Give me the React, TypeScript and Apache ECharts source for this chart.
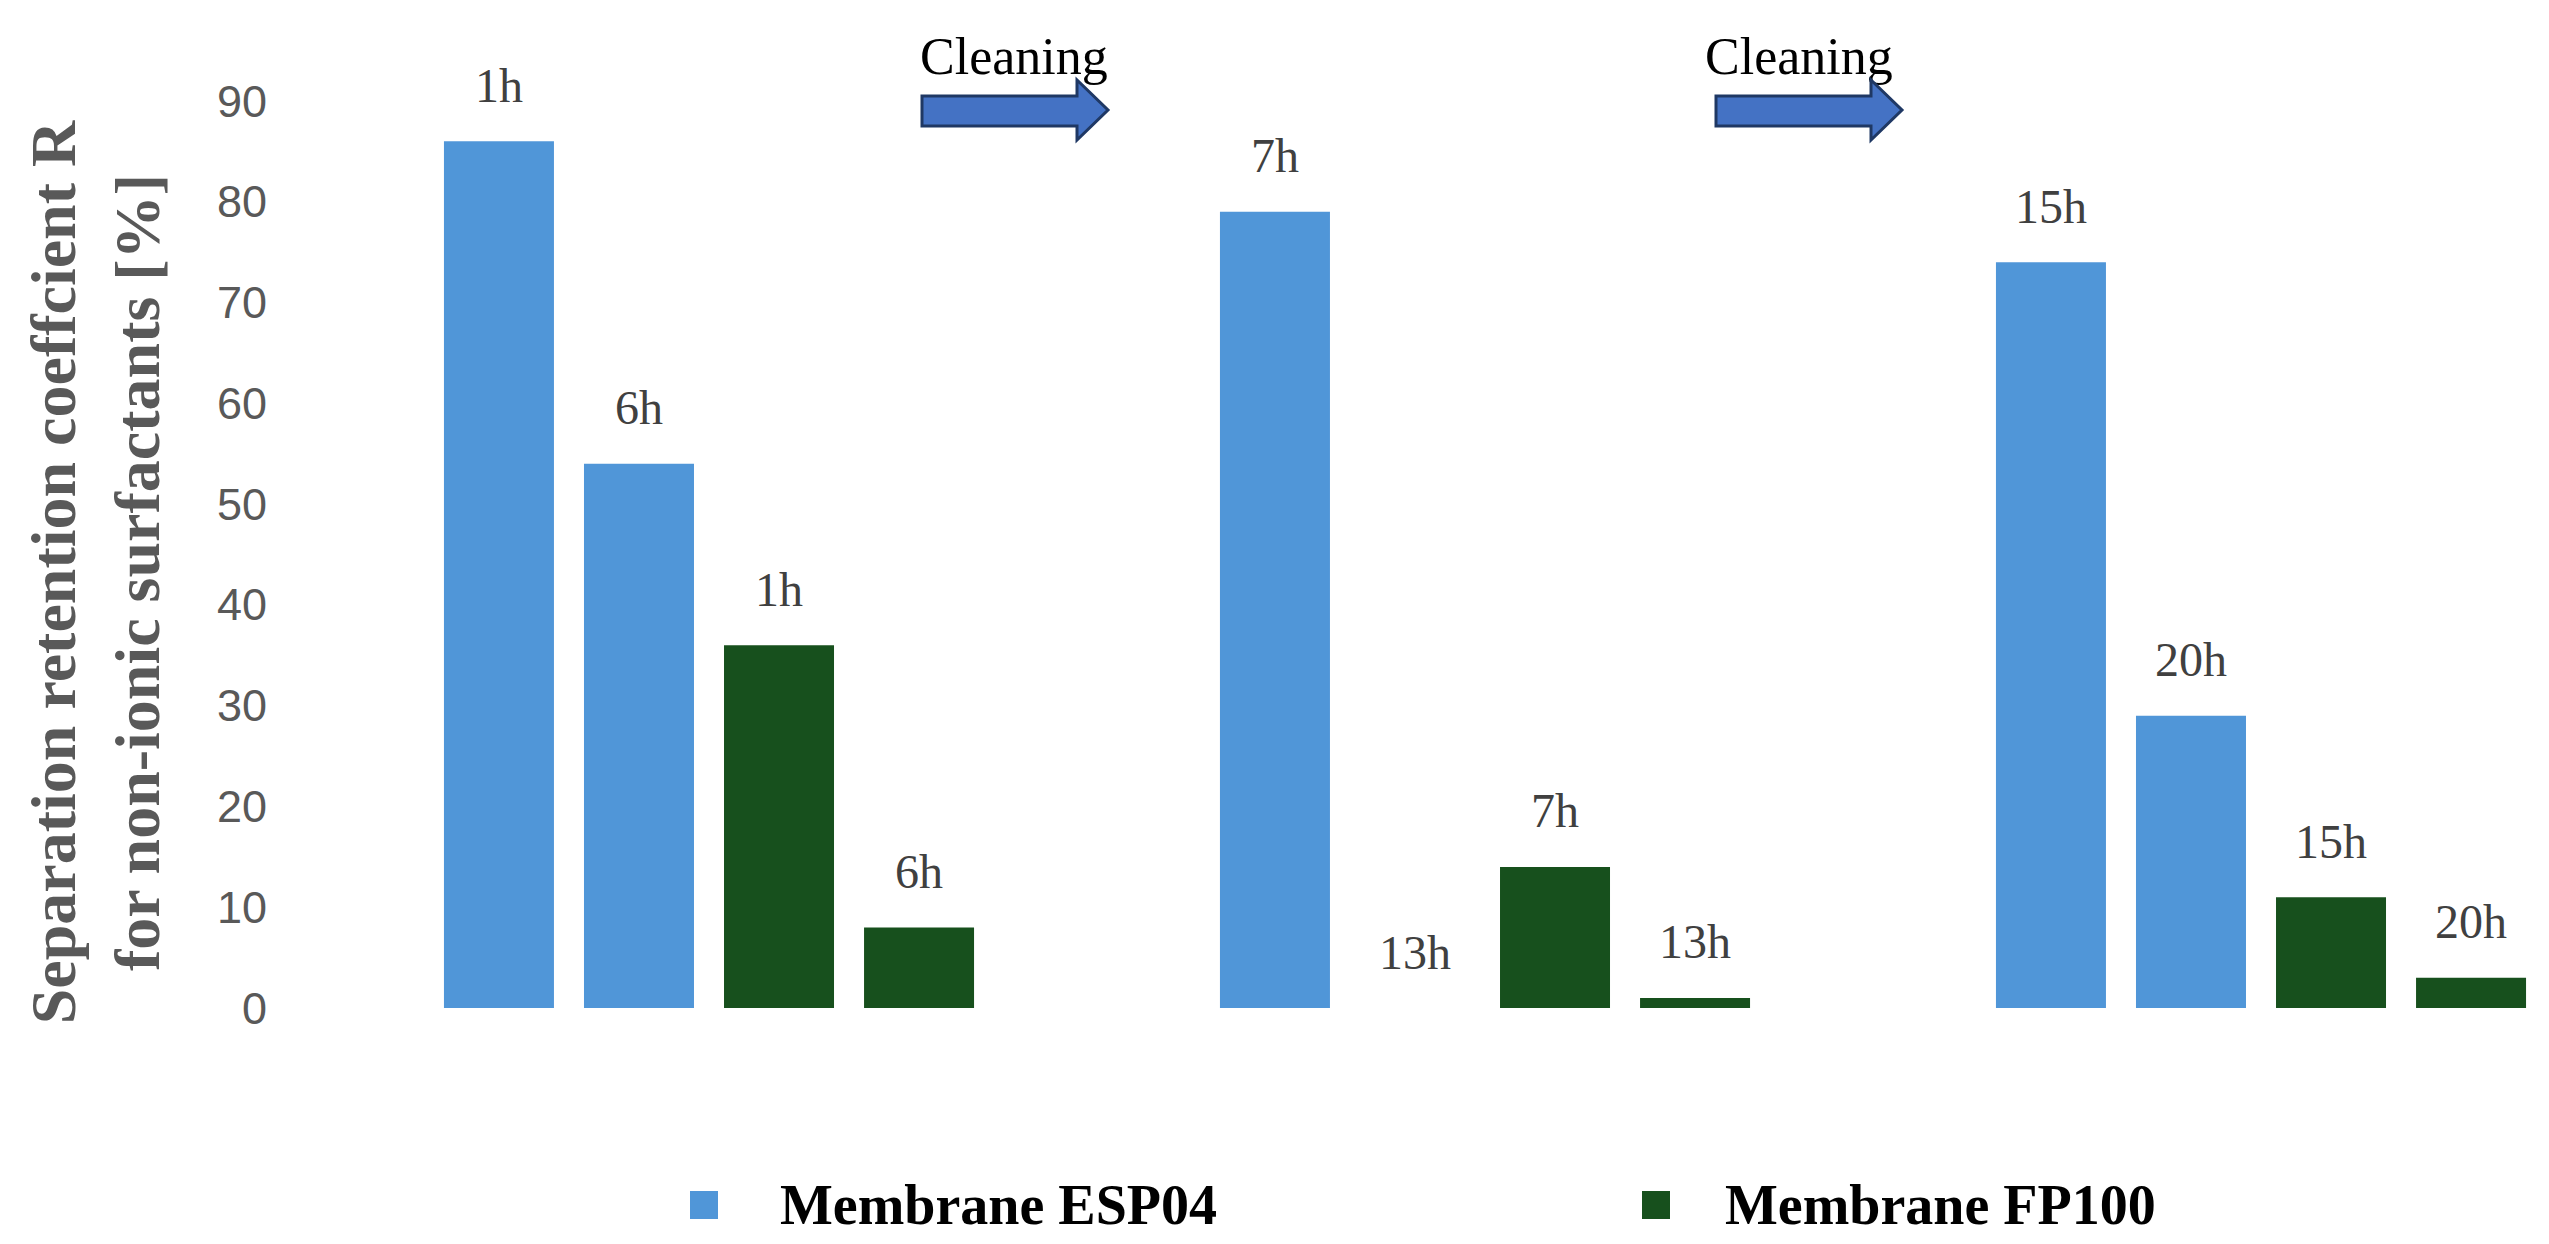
import React, { useEffect, useRef } from "react";
import * as echarts from "echarts";

const categories = ["Run 1", "Run 2", "Run 3"];
const espFirst = [86, 79, 74];
const espSecond = [54, 0, 29];
const fpFirst = [36, 14, 11];
const fpSecond = [8, 1, 3];
const labelsFirst = ["1h", "7h", "15h"];
const labelsSecond = ["6h", "13h", "20h"];
const yTicks = { min: 0, max: 90, interval: 10 };
const legendNames = ["Membrane ESP04", "Membrane FP100"];
const annotationText = "Cleaning";

const BLUE = "#5096d8";
const GREEN = "#17501d";

function makeSeries(name: string, values: number[], labels: string[], color: string) {
  return {
    name,
    type: "bar",
    barWidth: 110,
    barGap: "27.3%",
    itemStyle: { color },
    label: {
      show: true,
      position: "top",
      distance: 32,
      fontFamily: "Liberation Serif",
      fontSize: 48,
      color: "#404040",
      formatter: (p: any) => labels[p.dataIndex],
    },
    data: values,
  };
}

function arrow(x: number) {
  return {
    type: "polygon",
    shape: {
      points: [
        [x, 96],
        [x + 155, 96],
        [x + 155, 80],
        [x + 186, 110],
        [x + 155, 140],
        [x + 155, 126],
        [x, 126],
      ],
    },
    style: { fill: "#4472c4", stroke: "#1f3864", lineWidth: 3 },
  };
}

export default function App() {
  const ref = useRef<HTMLDivElement>(null);
  useEffect(() => {
    if (!ref.current) return;
    const chart = echarts.init(ref.current, undefined, { renderer: "svg" });
    chart.setOption({
      animation: false,
      backgroundColor: "#ffffff",
      grid: { left: 321, top: 101, width: 2328, height: 907, containLabel: false, outerBoundsMode: "none" },
      xAxis: {
        type: "category",
        data: categories,
        axisLine: { show: false },
        axisTick: { show: false },
        axisLabel: { show: false },
        splitLine: { show: false },
      },
      yAxis: {
        type: "value",
        min: yTicks.min,
        max: yTicks.max,
        interval: yTicks.interval,
        axisLine: { show: false },
        axisTick: { show: false },
        splitLine: { show: false },
        axisLabel: {
          fontFamily: "Liberation Sans",
          fontSize: 45,
          color: "#595959",
          margin: 54,
        },
        name: "Separation retention coeffcient R\nfor non-ionic surfactants [%]",
        nameLocation: "middle",
        nameRotate: 90,
        nameGap: 142,
        nameTextStyle: {
          fontFamily: "Liberation Serif",
          fontWeight: "bold",
          fontSize: 64,
          lineHeight: 84,
          color: "#595959",
          padding: [0, 36, 0, 0],
        },
      },
      legend: [
        {
          data: [legendNames[0]],
          left: 685,
          top: 1172,
          itemWidth: 28,
          itemHeight: 28,
          icon: "rect",
          textStyle: {
            fontFamily: "Liberation Serif",
            fontWeight: "bold",
            fontSize: 56,
            color: "#000000",
            padding: [0, 0, 0, 57],
          },
        },
        {
          data: [legendNames[1]],
          left: 1637,
          top: 1172,
          itemWidth: 28,
          itemHeight: 28,
          icon: "rect",
          textStyle: {
            fontFamily: "Liberation Serif",
            fontWeight: "bold",
            fontSize: 56,
            color: "#000000",
            padding: [0, 0, 0, 50],
          },
        },
      ],
      graphic: [
        {
          type: "text",
          left: 920,
          top: 30,
          style: { text: annotationText, fontFamily: "Liberation Serif", fontSize: 52, fill: "#000000" },
        },
        {
          type: "text",
          left: 1705,
          top: 30,
          style: { text: annotationText, fontFamily: "Liberation Serif", fontSize: 52, fill: "#000000" },
        },
        arrow(922),
        arrow(1716),
      ],
      series: [
        makeSeries(legendNames[0], espFirst, labelsFirst, BLUE),
        makeSeries(legendNames[0], espSecond, labelsSecond, BLUE),
        makeSeries(legendNames[1], fpFirst, labelsFirst, GREEN),
        makeSeries(legendNames[1], fpSecond, labelsSecond, GREEN),
      ],
    });
    return () => chart.dispose();
  }, []);
  return (
    <div
      ref={ref}
      style={{ position: "absolute", left: 0, top: 0, width: 2549, height: 1244, background: "#fff" }}
    />
  );
}
